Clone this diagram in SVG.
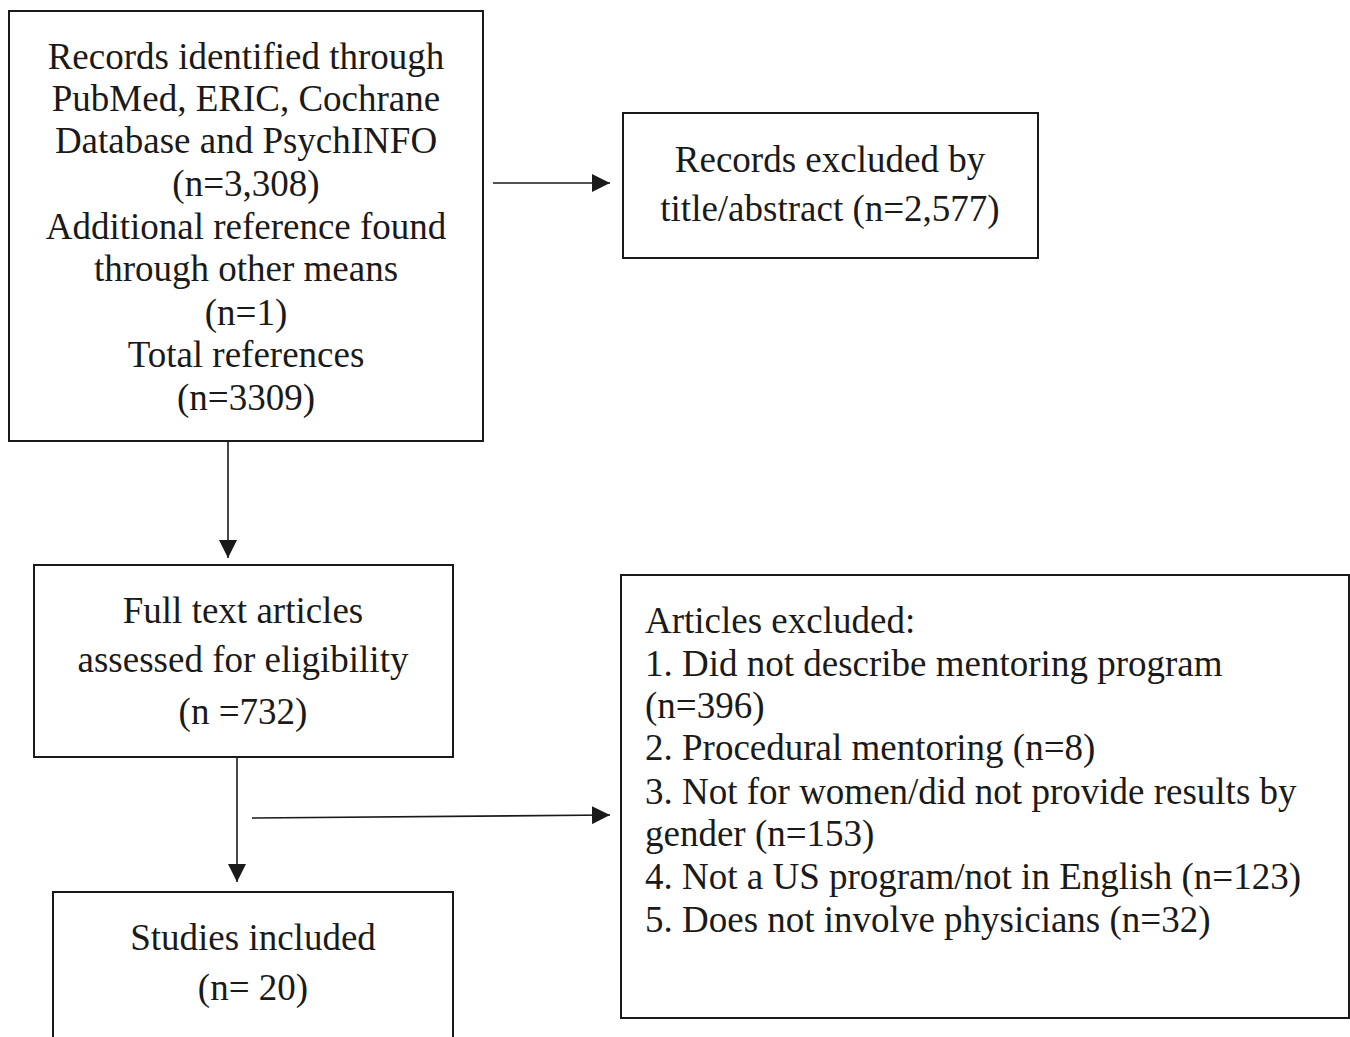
<svg xmlns="http://www.w3.org/2000/svg" width="1350" height="1037" viewBox="0 0 1350 1037">
<style>
.box{fill:#fff;stroke:#1a1a1a;stroke-width:2}
.t{font-family:"Liberation Serif","Times New Roman",serif;font-size:37px;fill:#1a1a1a}
.c{text-anchor:middle}
.ln{stroke:#1a1a1a;stroke-width:1.6;fill:none}
</style>
<defs>
<marker id="ah" viewBox="0 0 10 10" refX="10" refY="5" markerWidth="18" markerHeight="18" markerUnits="userSpaceOnUse" orient="auto">
<path d="M0,0 L10,5 L0,10 z" fill="#1a1a1a"/>
</marker>
</defs>
<rect width="1350" height="1037" fill="#fff"/>
<g id="connectors">
<line class="ln" x1="493" y1="183" x2="610" y2="183" marker-end="url(#ah)"/>
<line class="ln" x1="228" y1="442" x2="228" y2="558" marker-end="url(#ah)"/>
<line class="ln" x1="237" y1="757" x2="237" y2="882" marker-end="url(#ah)"/>
<line class="ln" x1="252" y1="818" x2="610" y2="815" marker-end="url(#ah)"/>
</g>
<g id="records">
<rect class="box" x="9" y="11" width="474" height="430"/>
<text class="t c" x="246" y="69">Records identified through</text>
<text class="t c" x="246" y="111">PubMed, ERIC, Cochrane</text>
<text class="t c" x="246" y="153">Database and PsychINFO</text>
<text class="t c" x="246" y="196">(n=3,308)</text>
<text class="t c" x="246" y="239">Additional reference found</text>
<text class="t c" x="246" y="281">through other means</text>
<text class="t c" x="246" y="325">(n=1)</text>
<text class="t c" x="246" y="367">Total references</text>
<text class="t c" x="246" y="410">(n=3309)</text>
</g>
<g id="excluded1">
<rect class="box" x="623" y="113" width="415" height="145"/>
<text class="t c" x="830" y="172">Records excluded by</text>
<text class="t c" x="830" y="221">title/abstract (n=2,577)</text>
</g>
<g id="fulltext">
<rect class="box" x="34" y="565" width="419" height="192"/>
<text class="t c" x="243" y="623">Full text articles</text>
<text class="t c" x="243" y="672">assessed for eligibility</text>
<text class="t c" x="243" y="724">(n =732)</text>
</g>
<g id="included">
<rect class="box" x="53" y="892" width="400" height="160"/>
<text class="t c" x="253" y="950">Studies included</text>
<text class="t c" x="253" y="1000">(n= 20)</text>
</g>
<g id="excluded2">
<rect class="box" x="621" y="575" width="728" height="443"/>
<text class="t" x="645" y="633">Articles excluded:</text>
<text class="t" x="645" y="676">1. Did not describe mentoring program</text>
<text class="t" x="645" y="718">(n=396)</text>
<text class="t" x="645" y="760">2. Procedural mentoring (n=8)</text>
<text class="t" x="645" y="804">3. Not for women/did not provide results by</text>
<text class="t" x="645" y="846">gender (n=153)</text>
<text class="t" x="645" y="889">4. Not a US program/not in English (n=123)</text>
<text class="t" x="645" y="932">5. Does not involve physicians (n=32)</text>
</g>
</svg>
